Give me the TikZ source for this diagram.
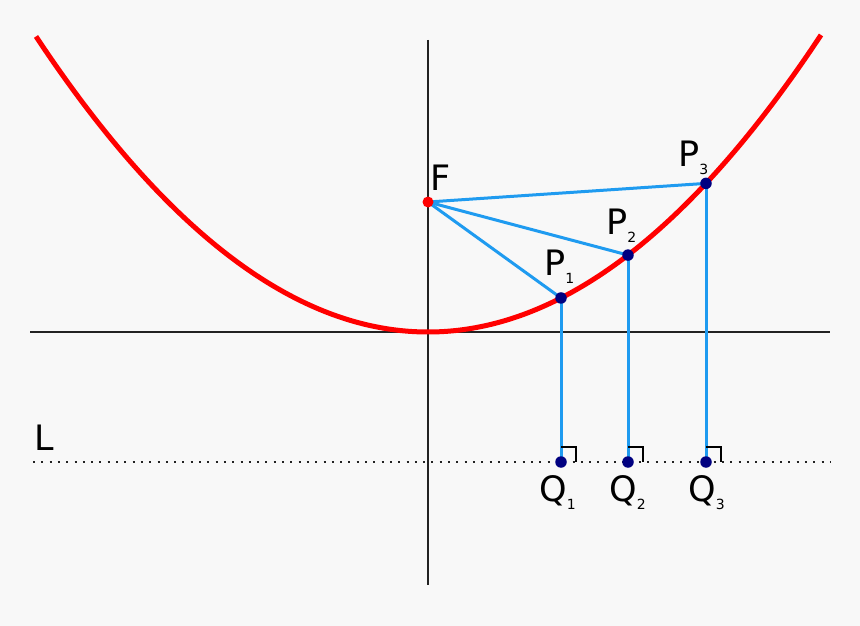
\documentclass[tikz,border=0pt]{standalone}
\usepackage{fontspec}
\setmainfont{DejaVu Sans}
\definecolor{bg}{HTML}{F8F8F8}
\definecolor{curve}{HTML}{FF0000}
\definecolor{seg}{HTML}{1F9BF0}
\definecolor{ptc}{HTML}{000080}
\definecolor{axc}{HTML}{222222}
\tikzset{
  axis/.style={draw=axc,line width=2pt},
  segline/.style={draw=seg,line width=3pt},
  dotpt/.style={circle,fill=ptc,inner sep=0pt,minimum size=11.5pt},
  focpt/.style={circle,fill=curve,inner sep=0pt,minimum size=11pt},
  lbl/.style={font=\fontsize{35}{35}\selectfont,inner sep=0pt},
  rmark/.style={draw=black,line width=1.4pt},
}
\newcommand{\sbs}[1]{\raisebox{-8pt}{\fontsize{14}{14}\selectfont #1}}
\begin{document}
\begin{tikzpicture}[x=1pt,y=-1pt]
\fill[bg] (0,0) rectangle (860,626);
\useasboundingbox (0,0) rectangle (860,626);
% axes
\draw[axis] (428,40) -- (428,585);
\draw[axis] (30,332) -- (830,332);
% directrix
\draw[draw=axc,line width=2pt,dash pattern=on 2pt off 6.3pt] (33,462) -- (830,462);
% parabola
\draw[curve,line width=5pt] plot[domain=-392:393,samples=120,smooth]
  ({428+\x},{332-(\x/10)*(\x/10)/5.2});
% points
\coordinate (F) at (428,202);
\coordinate (P1) at (561,{332-13.3*13.3/5.2});
\coordinate (P2) at (628,{332-20*20/5.2});
\coordinate (P3) at (706,{332-27.8*27.8/5.2});
\coordinate (Q1) at (561,462);
\coordinate (Q2) at (628,462);
\coordinate (Q3) at (706,462);
\foreach \i in {1,2,3}{
  \draw[segline] (F) -- (P\i);
  \draw[segline] (P\i) -- (Q\i);
  \draw[rmark] ([yshift=15pt]Q\i) -- ++(15,0) -- ++(0,15);
}
\node[focpt] (Fd) at (F) {};
\foreach \i in {1,2,3}{
  \node[dotpt] (P\i d) at (P\i) {};
  \node[dotpt] (Q\i d) at (Q\i) {};
}
% labels
\node[lbl,anchor=base west] (Fl) at (430,190) {F};
\node[lbl,anchor=base west] (P1l) at (544,275) {P\sbs{1}};
\node[lbl,anchor=base west] (P2l) at (606,234) {P\sbs{2}};
\node[lbl,anchor=base west] (P3l) at (678,166) {P\sbs{3}};
\node[lbl,anchor=base west] (Q1l) at (539,501) {Q\sbs{1}};
\node[lbl,anchor=base west] (Q2l) at (609,501) {Q\sbs{2}};
\node[lbl,anchor=base west] (Q3l) at (688,501) {Q\sbs{3}};
\node[lbl,anchor=base west] (Ll) at (34,450) {L};
\end{tikzpicture}
\end{document}
